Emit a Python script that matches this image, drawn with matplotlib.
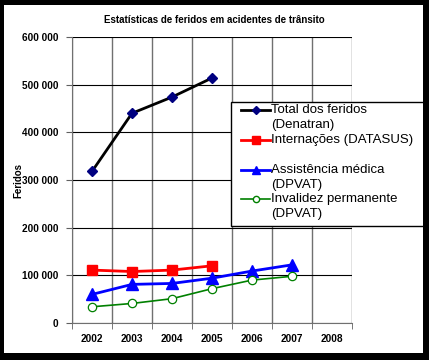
import matplotlib
matplotlib.use("Agg")
import matplotlib.pyplot as plt
from matplotlib.patches import Rectangle
from matplotlib.lines import Line2D
from matplotlib.ticker import FuncFormatter, FixedLocator

plt.rcParams['font.family'] = ['Liberation Sans', 'DejaVu Sans']

years = ['2002', '2003', '2004', '2005', '2006', '2007', '2008']
total_feridos = [318000, 440000, 474000, 514000]
internacoes = [111000, 108000, 111000, 120000]
assistencia = [60000, 81000, 83000, 94000, 109000, 122000]
invalidez = [34000, 41000, 51000, 72000, 90000, 98000]
yticks = [0, 100000, 200000, 300000, 400000, 500000, 600000]

title = 'Estatísticas de feridos em acidentes de trânsito'
ylabel = 'Feridos'
legend_lines = [
    ['Total dos feridos', '(Denatran)'],
    ['Internações (DATASUS)'],
    ['Assistência médica', '(DPVAT)'],
    ['Invalidez permanente', '(DPVAT)'],
]

W, H = 429, 360
fig = plt.figure(figsize=(W / 100, H / 100), dpi=100, facecolor='white')

def fx(x):
    return x / W

def fy(y):
    return 1 - y / H

ax = fig.add_axes([fx(72), fy(323), fx(352) - fx(72), fy(37) - fy(323)])
x = list(range(len(years)))

styles = [
    dict(color='black', lw=2.0, marker='D', ms=5.5, mfc='#000080', mec='#000080'),
    dict(color='#FF0000', lw=2.0, marker='s', ms=7, mfc='#FF0000', mec='#FF0000'),
    dict(color='#0000FF', lw=2.0, marker='^', ms=8, mfc='#0000FF', mec='#0000FF'),
    dict(color='#008000', lw=1.2, marker='o', ms=6, mfc='white', mec='#008000', mew=0.9),
]
series = [total_feridos, internacoes, assistencia, invalidez]
for s, st in zip(series, styles):
    ax.plot(x[:len(s)], s, zorder=5, clip_on=False, **st)

ax.set_xlim(-0.5, len(years) - 0.5)
ax.set_ylim(0, 600000)
ax.set_xticks(x)
ax.set_xticklabels(years, fontsize=7.3, fontweight='bold')
ax.xaxis.set_minor_locator(FixedLocator([i - 0.5 for i in range(len(years) + 1)]))
ax.tick_params(axis='x', which='major', length=0, pad=8)
ax.tick_params(axis='x', which='minor', length=4, color='#606060', direction='out')
ax.set_yticks(yticks)
ax.yaxis.set_major_formatter(FuncFormatter(lambda v, p: f'{int(v):,}'.replace(',', ' ')))
ax.tick_params(axis='y', length=4, color='#606060', direction='out', labelsize=7.2, pad=6)
for lab in ax.get_yticklabels():
    lab.set_fontweight('bold')

ax.grid(True, axis='y', color='black', lw=0.8)
ax.grid(True, axis='x', which='minor', color='#707070', lw=1.0)
ax.set_axisbelow(True)
for side in ['top', 'right']:
    ax.spines[side].set_visible(False)
ax.spines['left'].set_color('#707070')
ax.spines['bottom'].set_color('#707070')

fig.text(fx(214), fy(20), title, ha='center', va='center', fontsize=7.0, fontweight='bold')
fig.text(fx(18), fy(181), ylabel, ha='center', va='center', rotation=90, fontsize=7.0, fontweight='bold')

# Legend box
fig.add_artist(Rectangle((fx(231), fy(226)), fx(440) - fx(231), fy(102) - fy(226),
                         transform=fig.transFigure, facecolor='white', edgecolor='black', lw=1.0, zorder=10))
entry_y = [110, 140, 170, 199]
for (lines, st, y0) in zip(legend_lines, styles, entry_y):
    fig.add_artist(Line2D([fx(241), fx(270)], [fy(y0), fy(y0)], transform=fig.transFigure,
                          color=st['color'], lw=st['lw'], zorder=11))
    fig.add_artist(Line2D([fx(255.5)], [fy(y0)], transform=fig.transFigure, marker=st['marker'],
                          ms=st['ms'] * 0.75, mfc=st['mfc'], mec=st['mec'], lw=0, zorder=12))
    for k, t in enumerate(lines):
        fig.text(fx(271), fy(y0 + 15 * k), t, ha='left', va='center', fontsize=9.5, zorder=13)

# Black frame
for (x0, y0, x1, y1) in [(0, 0, 4, 360), (423, 0, 429, 360), (0, 0, 429, 5), (0, 353, 429, 360)]:
    fig.add_artist(Rectangle((fx(x0), fy(y1)), fx(x1) - fx(x0), fy(y0) - fy(y1),
                             transform=fig.transFigure, facecolor='black', edgecolor='none', zorder=20))

fig.savefig('out.png', dpi=100, facecolor='white')
